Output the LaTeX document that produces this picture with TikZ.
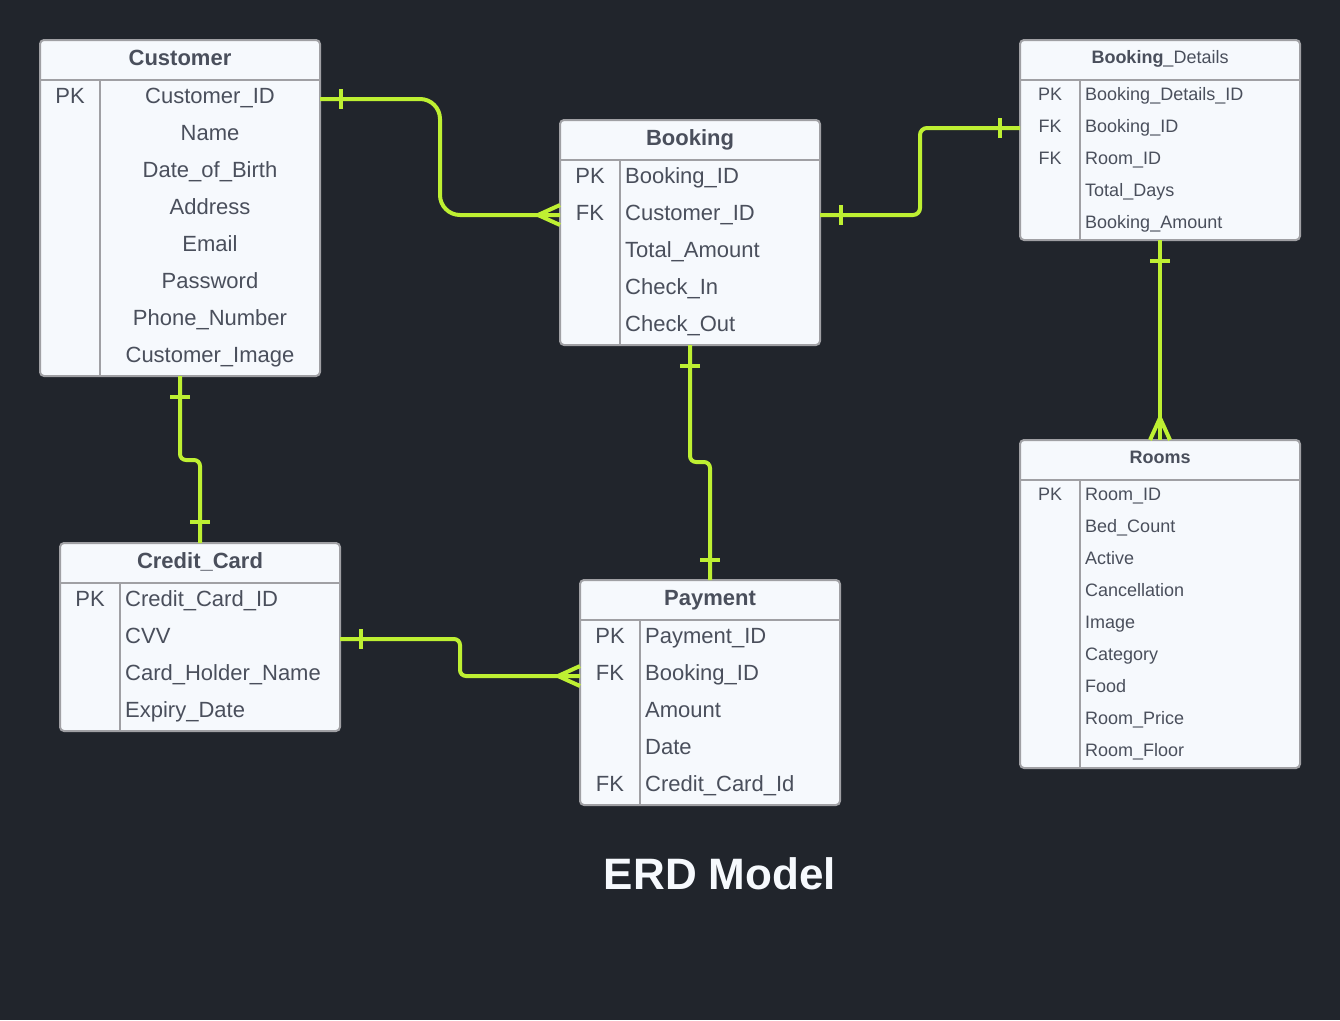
\documentclass[tikz,border=0pt]{standalone}
\usepackage{fontspec}
\setmainfont{Liberation Sans}
\definecolor{bg}{RGB}{33,37,44}
\definecolor{tfill}{RGB}{246,249,253}
\definecolor{tline}{RGB}{160,160,164}
\definecolor{ttext}{RGB}{74,79,92}
\definecolor{relc}{RGB}{190,240,50}
\definecolor{ttl}{RGB}{246,249,253}
\tikzset{
 tbl/.style={draw=tline, fill=tfill, line width=2pt, rounded corners=4pt, inner sep=0pt, outer sep=0pt},
 sepl/.style={draw=tline, line width=2pt},
 big/.style={font=\fontsize{22}{26}\selectfont, text=ttext, inner sep=0pt, anchor=base},
 bigl/.style={big, anchor=base west},
 bigt/.style={big, font=\fontsize{22}{26}\selectfont\bfseries},
 sml/.style={font=\fontsize{18}{22}\selectfont, text=ttext, inner sep=0pt, anchor=base},
 smll/.style={sml, anchor=base west},
 relline/.style={draw=relc, line width=4pt},
}
\begin{document}
\begin{tikzpicture}[x=1pt,y=-1pt]
\fill[bg] (0,0) rectangle (1340,1020);
\useasboundingbox (0,0) rectangle (1340,1020);

% ---------- tables ----------
\node[tbl, minimum width=280pt, minimum height=336pt] (cust) at (180,208) {};
\node[tbl, minimum width=260pt, minimum height=225pt] (book) at (690,232.5) {};
\node[tbl, minimum width=280pt, minimum height=200pt] (bd) at (1160,140) {};
\node[tbl, minimum width=280pt, minimum height=328pt] (rooms) at (1160,604) {};
\node[tbl, minimum width=280pt, minimum height=188pt] (cc) at (200,637) {};
\node[tbl, minimum width=260pt, minimum height=225pt] (pay) at (710,692.5) {};

\foreach \t in {cust,book,bd,rooms,cc,pay}{
  \draw[sepl] ([yshift=-40pt]\t.north west) -- ([yshift=-40pt]\t.north east);
  \draw[sepl] ([xshift=60pt,yshift=-40pt]\t.north west) -- ([xshift=60pt]\t.south west);
}

% Customer
\node[bigt] (custt) at (180,65) {Customer};
\node[big] (custk1) at (70,103) {PK};
\foreach \f [count=\i] in {Customer\_ID,Name,Date\_of\_Birth,Address,Email,Password,Phone\_Number,Customer\_Image}
  \node[big] (custf\i) at (210,{66+37*\i}) {\f};

% Booking
\node[bigt] (bookt) at (690,145) {Booking};
\node[big] (bookk1) at (590,183) {PK};
\node[big] (bookk2) at (590,220) {FK};
\foreach \f [count=\i] in {Booking\_ID,Customer\_ID,Total\_Amount,Check\_In,Check\_Out}
  \node[bigl] (bookf\i) at (625,{146+37*\i}) {\f};

% Booking_Details
\node[sml] (bdt) at (1160,63) {\textbf{Booking}\_Details};
\node[sml] (bdk1) at (1050,100) {PK};
\node[sml] (bdk2) at (1050,132) {FK};
\node[sml] (bdk3) at (1050,164) {FK};
\foreach \f [count=\i] in {Booking\_Details\_ID,Booking\_ID,Room\_ID,Total\_Days,Booking\_Amount}
  \node[smll] (bdf\i) at (1085,{68+32*\i}) {\f};

% Rooms
\node[sml, font=\fontsize{18}{22}\selectfont\bfseries] (roomst) at (1160,463) {Rooms};
\node[sml] (roomsk1) at (1050,500) {PK};
\foreach \f [count=\i] in {Room\_ID,Bed\_Count,Active,Cancellation,Image,Category,Food,Room\_Price,Room\_Floor}
  \node[smll] (roomsf\i) at (1085,{468+32*\i}) {\f};

% Credit_Card
\node[bigt] (cct) at (200,568) {Credit\_Card};
\node[big] (cck1) at (90,606) {PK};
\foreach \f [count=\i] in {Credit\_Card\_ID,CVV,Card\_Holder\_Name,Expiry\_Date}
  \node[bigl] (ccf\i) at (125,{569+37*\i}) {\f};

% Payment
\node[bigt] (payt) at (710,605) {Payment};
\node[big] (payk1) at (610,643) {PK};
\node[big] (payk2) at (610,680) {FK};
\node[big] (payk5) at (610,791) {FK};
\foreach \f [count=\i] in {Payment\_ID,Booking\_ID,Amount,Date,Credit\_Card\_Id}
  \node[bigl] (payf\i) at (645,{606+37*\i}) {\f};

% Title
\node[font=\fontsize{44}{50}\selectfont\bfseries, text=ttl, inner sep=0pt, anchor=base] (title) at (720,889) {ERD Model};

% ---------- connectors ----------
% Customer -> Booking
\coordinate (c1a) at ([yshift=-59pt]cust.north east);
\coordinate (c1b) at ([yshift=-95pt]book.north west);
\draw[relline, rounded corners=20pt] (c1a) -- (440,99) -- (440,215) -- (c1b);
\draw[relline] ([xshift=21pt]c1a) ++(0,-10) -- ++(0,20);
\draw[relline] ([xshift=-22pt]c1b) -- ++(22,-10);
\draw[relline] ([xshift=-22pt]c1b) -- ++(22,10);

% Booking -> Booking_Details
\coordinate (c2a) at ([yshift=-95pt]book.north east);
\coordinate (c2b) at ([yshift=-88pt]bd.north west);
\draw[relline, rounded corners=7pt] (c2a) -- (920,215) -- (920,128) -- (c2b);
\draw[relline] ([xshift=21pt]c2a) ++(0,-10) -- ++(0,20);
\draw[relline] ([xshift=-20pt]c2b) ++(0,-10) -- ++(0,20);

% Booking_Details -> Rooms
\draw[relline] (bd.south) -- (rooms.north);
\draw[relline] ([yshift=-21pt]bd.south) ++(-10,0) -- ++(20,0);
\draw[relline] ([yshift=22pt]rooms.north) -- ++(-10,22);
\draw[relline] ([yshift=22pt]rooms.north) -- ++(10,22);

% Customer -> Credit_Card
\draw[relline, rounded corners=6pt] (cust.south) -- (180,460) -- (200,460) -- (cc.north);
\draw[relline] ([yshift=-21pt]cust.south) ++(-10,0) -- ++(20,0);
\draw[relline] ([yshift=21pt]cc.north) ++(-10,0) -- ++(20,0);

% Booking -> Payment
\draw[relline, rounded corners=6pt] (book.south) -- (690,462) -- (710,462) -- (pay.north);
\draw[relline] ([yshift=-21pt]book.south) ++(-10,0) -- ++(20,0);
\draw[relline] ([yshift=20pt]pay.north) ++(-10,0) -- ++(20,0);

% Credit_Card -> Payment
\coordinate (c6a) at ([yshift=-96pt]cc.north east);
\coordinate (c6b) at ([yshift=-96pt]pay.north west);
\draw[relline, rounded corners=6pt] (c6a) -- (460,639) -- (460,676) -- (c6b);
\draw[relline] ([xshift=21pt]c6a) ++(0,-10) -- ++(0,20);
\draw[relline] ([xshift=-22pt]c6b) -- ++(22,-10);
\draw[relline] ([xshift=-22pt]c6b) -- ++(22,10);
\end{tikzpicture}
\end{document}
